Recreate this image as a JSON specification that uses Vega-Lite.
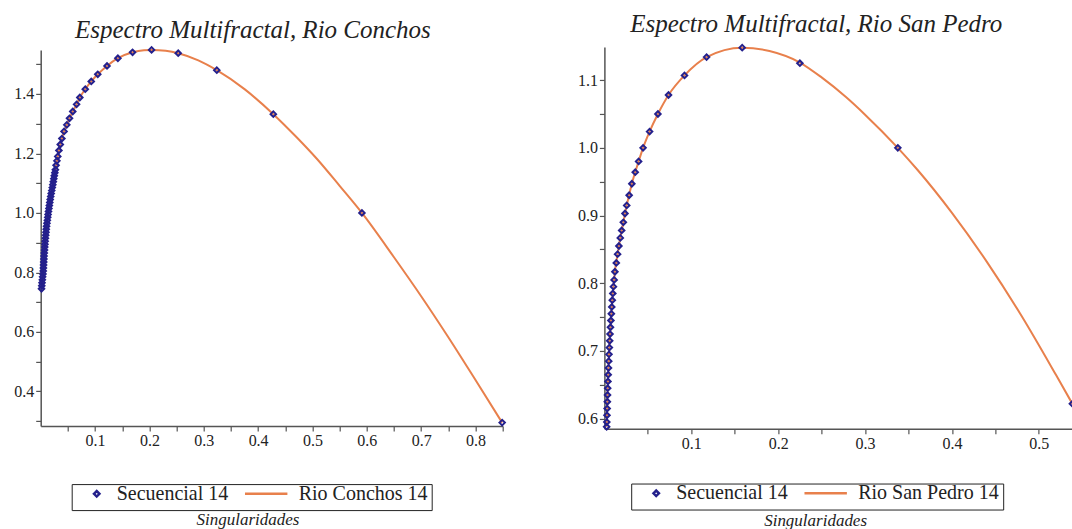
{
  "$schema": "https://vega.github.io/schema/vega-lite/v6.json",
  "background": "white",
  "padding": {"left": 13.7, "top": 10.9, "right": 0, "bottom": 0},
  "bounds": "flush",
  "center": true,
  "spacing": 101.7,
  "config": {
    "view": {"stroke": null},
    "font": "Liberation Serif",
    "axis": {
      "labelFont": "Liberation Serif", "labelFontSize": 16, "labelColor": "#222",
      "domainColor": "#555", "domainWidth": 1.5, "tickColor": "#555", "tickSize": 5, "tickWidth": 1.2,
      "grid": false, "labelPadding": 2, "labelFlush": false, "labelOverlap": false,
      "titleFont": "Liberation Serif", "titleFontStyle": "italic", "titleFontWeight": "normal",
      "titleFontSize": 17, "titleColor": "#222"
    },
    "title": {"font": "Liberation Serif", "fontStyle": "italic", "fontWeight": "normal", "fontSize": 25, "color": "#222", "anchor": "start", "frame": "group", "baseline": "alphabetic"},
    "legend": {
      "orient": "none", "direction": "horizontal",
      "strokeColor": "#222", "fillColor": "white", "padding": 4,
      "labelFont": "Liberation Serif", "labelFontSize": 20, "labelColor": "#222",
      "labelOffset": 10, "columnPadding": 15, "symbolStrokeWidth": 2.5, "clipHeight": 11,
      "titleOrient": "left", "titlePadding": 11, "titleFontSize": 20, "titleFont": "Liberation Serif"
    }
  },
  "resolve": {
    "scale": {"x": "independent", "y": "independent", "color": "independent", "shape": "independent", "size": "independent"},
    "legend": {"color": "independent", "shape": "independent", "size": "independent"}
  },
  "hconcat": [
    {
      "width": 462,
      "height": 376,
      "title": {"text": "Espectro Multifractal, Rio Conchos", "dx": 34.3, "offset": 0},
      "encoding": {
        "x": {"field": "x", "type": "quantitative", "scale": {"domain": [0, 0.85], "nice": false, "zero": false},
          "axis": {"title": "Singularidades", "values": [0.05, 0.1, 0.15, 0.2, 0.25, 0.3, 0.35, 0.4, 0.45, 0.5, 0.55, 0.6, 0.65, 0.7, 0.75, 0.8, 0.85],
            "labelExpr": "abs(datum.value*10 - round(datum.value*10)) < 0.01 ? format(datum.value, '.1f') : ''",
            "titleX": 206.8, "titleY": 99, "titleAnchor": null, "titleAlign": "center", "titleBaseline": "alphabetic"}},
        "y": {"field": "y", "type": "quantitative", "scale": {"domain": [0.284, 1.548], "nice": false, "zero": false},
          "axis": {"title": null, "values": [0.3, 0.4, 0.5, 0.6, 0.7, 0.8, 0.9, 1.0, 1.1, 1.2, 1.3, 1.4, 1.5],
            "labelExpr": "abs(datum.value*5 - round(datum.value*5)) < 0.01 ? format(datum.value, '.1f') : ''"}}
      },
      "layer": [
        {
          "data": {"values": [
            {"x": 0.0015, "y": 0.745}, {"x": 0.003, "y": 0.78}, {"x": 0.0045, "y": 0.80}, {"x": 0.006, "y": 0.85},
            {"x": 0.008, "y": 0.90}, {"x": 0.0105, "y": 0.95}, {"x": 0.014, "y": 1.00}, {"x": 0.018, "y": 1.05},
            {"x": 0.0228, "y": 1.10}, {"x": 0.0275, "y": 1.15}, {"x": 0.0325, "y": 1.20}, {"x": 0.036, "y": 1.23},
            {"x": 0.039, "y": 1.25}, {"x": 0.043, "y": 1.274}, {"x": 0.048, "y": 1.296}, {"x": 0.053, "y": 1.318},
            {"x": 0.059, "y": 1.341}, {"x": 0.066, "y": 1.365}, {"x": 0.072, "y": 1.388}, {"x": 0.082, "y": 1.416},
            {"x": 0.093, "y": 1.442}, {"x": 0.105, "y": 1.466}, {"x": 0.122, "y": 1.494}, {"x": 0.142, "y": 1.52},
            {"x": 0.169, "y": 1.54}, {"x": 0.19, "y": 1.547}, {"x": 0.204, "y": 1.548}, {"x": 0.23, "y": 1.545},
            {"x": 0.253, "y": 1.537}, {"x": 0.29, "y": 1.513}, {"x": 0.324, "y": 1.48}, {"x": 0.375, "y": 1.416},
            {"x": 0.428, "y": 1.332}, {"x": 0.47, "y": 1.256}, {"x": 0.508, "y": 1.182}, {"x": 0.55, "y": 1.091},
            {"x": 0.591, "y": 1.0}, {"x": 0.65, "y": 0.851}, {"x": 0.7, "y": 0.72}, {"x": 0.75, "y": 0.582},
            {"x": 0.8, "y": 0.438}, {"x": 0.849, "y": 0.295}
          ]},
          "mark": {"type": "line", "strokeWidth": 2, "interpolate": "monotone"},
          "encoding": {
            "color": {"datum": "Rio Conchos 14", "type": "nominal"}
          }
        },
        {
          "data": {"values": [
            {"x": 0.0015, "y": 0.745}, {"x": 0.002, "y": 0.755}, {"x": 0.0025, "y": 0.765}, {"x": 0.003, "y": 0.775},
            {"x": 0.0035, "y": 0.785}, {"x": 0.0042, "y": 0.795}, {"x": 0.0047, "y": 0.805}, {"x": 0.005, "y": 0.815},
            {"x": 0.0053, "y": 0.825}, {"x": 0.0056, "y": 0.835}, {"x": 0.0059, "y": 0.845}, {"x": 0.0062, "y": 0.855},
            {"x": 0.0066, "y": 0.865}, {"x": 0.007, "y": 0.875}, {"x": 0.0074, "y": 0.885}, {"x": 0.0078, "y": 0.895},
            {"x": 0.0082, "y": 0.905}, {"x": 0.0087, "y": 0.915}, {"x": 0.0092, "y": 0.925}, {"x": 0.0097, "y": 0.935},
            {"x": 0.0102, "y": 0.945}, {"x": 0.0108, "y": 0.955}, {"x": 0.0115, "y": 0.965}, {"x": 0.0122, "y": 0.975},
            {"x": 0.0129, "y": 0.985}, {"x": 0.0136, "y": 0.995}, {"x": 0.0143, "y": 1.005}, {"x": 0.0151, "y": 1.015},
            {"x": 0.0159, "y": 1.025}, {"x": 0.0167, "y": 1.035}, {"x": 0.0175, "y": 1.045}, {"x": 0.0184, "y": 1.055},
            {"x": 0.0193, "y": 1.065}, {"x": 0.0203, "y": 1.075}, {"x": 0.0213, "y": 1.085}, {"x": 0.0223, "y": 1.095},
            {"x": 0.0232, "y": 1.105}, {"x": 0.0241, "y": 1.115}, {"x": 0.025, "y": 1.125}, {"x": 0.026, "y": 1.135},
            {"x": 0.027, "y": 1.145}, {"x": 0.0283, "y": 1.16}, {"x": 0.0298, "y": 1.175}, {"x": 0.0314, "y": 1.19},
            {"x": 0.0335, "y": 1.21}, {"x": 0.036, "y": 1.23}, {"x": 0.039, "y": 1.25}, {"x": 0.043, "y": 1.274},
            {"x": 0.048, "y": 1.296}, {"x": 0.053, "y": 1.318}, {"x": 0.059, "y": 1.341}, {"x": 0.066, "y": 1.365},
            {"x": 0.072, "y": 1.388}, {"x": 0.082, "y": 1.416}, {"x": 0.093, "y": 1.442}, {"x": 0.105, "y": 1.466},
            {"x": 0.122, "y": 1.494}, {"x": 0.142, "y": 1.52}, {"x": 0.169, "y": 1.54}, {"x": 0.204, "y": 1.548},
            {"x": 0.253, "y": 1.537}, {"x": 0.324, "y": 1.48}, {"x": 0.428, "y": 1.332}, {"x": 0.591, "y": 1.0},
            {"x": 0.849, "y": 0.295}
          ]},
          "mark": {"type": "point", "filled": false, "strokeWidth": 2, "opacity": 1},
          "encoding": {
            "color": {"datum": "Secuencial 14", "type": "nominal",
              "scale": {"domain": ["Secuencial 14", "Rio Conchos 14"], "range": ["#24208c", "#e8804c"]},
              "legend": {"title": " ", "legendX": 31, "legendY": 434.2}},
            "shape": {"datum": "Secuencial 14", "type": "nominal",
              "scale": {"domain": ["Secuencial 14", "Rio Conchos 14"], "range": ["diamond", "stroke"]},
              "legend": {"title": " ", "legendX": 31, "legendY": 434.2}},
            "size": {"datum": "Secuencial 14", "type": "ordinal",
              "scale": {"domain": ["Secuencial 14", "Rio Conchos 14"], "range": [30, 1800]},
              "legend": {"title": " ", "legendX": 31, "legendY": 434.2}}
          }
        }
      ]
    },
    {
      "width": 468,
      "height": 381.9,
      "title": {"text": "Espectro Multifractal, Rio San Pedro", "dx": 25.8, "offset": 4.2},
      "encoding": {
        "x": {"field": "x", "type": "quantitative", "scale": {"domain": [0, 0.5386], "nice": false, "zero": false},
          "axis": {"title": "Singularidades", "values": [0.05, 0.1, 0.15, 0.2, 0.25, 0.3, 0.35, 0.4, 0.45, 0.5],
            "labelExpr": "abs(datum.value*10 - round(datum.value*10)) < 0.01 ? format(datum.value, '.1f') : ''",
            "titleX": 210.7, "titleY": 96.7, "titleAnchor": null, "titleAlign": "center", "titleBaseline": "alphabetic"}},
        "y": {"field": "y", "type": "quantitative", "scale": {"domain": [0.585, 1.149], "nice": false, "zero": false},
          "axis": {"title": null, "values": [0.6, 0.65, 0.7, 0.75, 0.8, 0.85, 0.9, 0.95, 1.0, 1.05, 1.1],
            "labelExpr": "abs(datum.value*10 - round(datum.value*10)) < 0.01 ? format(datum.value, '.1f') : ''"}}
      },
      "layer": [
        {
          "data": {"values": [
            {"x": 0.0026, "y": 0.588}, {"x": 0.003, "y": 0.605}, {"x": 0.0036, "y": 0.635}, {"x": 0.0044, "y": 0.665},
            {"x": 0.0053, "y": 0.695}, {"x": 0.0065, "y": 0.725}, {"x": 0.008, "y": 0.755}, {"x": 0.0097, "y": 0.785},
            {"x": 0.0112, "y": 0.805}, {"x": 0.0121, "y": 0.817}, {"x": 0.0152, "y": 0.843}, {"x": 0.0183, "y": 0.867},
            {"x": 0.0218, "y": 0.89}, {"x": 0.0257, "y": 0.915}, {"x": 0.0316, "y": 0.947}, {"x": 0.0394, "y": 0.98},
            {"x": 0.0445, "y": 1.0}, {"x": 0.052, "y": 1.024}, {"x": 0.0616, "y": 1.05}, {"x": 0.0738, "y": 1.078},
            {"x": 0.0922, "y": 1.107}, {"x": 0.1176, "y": 1.134}, {"x": 0.1586, "y": 1.148}, {"x": 0.19, "y": 1.143},
            {"x": 0.225, "y": 1.126}, {"x": 0.25, "y": 1.104}, {"x": 0.278, "y": 1.075}, {"x": 0.3, "y": 1.049},
            {"x": 0.3377, "y": 1.0}, {"x": 0.36, "y": 0.968}, {"x": 0.4, "y": 0.904}, {"x": 0.44, "y": 0.832},
            {"x": 0.48, "y": 0.752}, {"x": 0.52, "y": 0.664}, {"x": 0.5386, "y": 0.622}
          ]},
          "mark": {"type": "line", "strokeWidth": 2, "interpolate": "monotone"},
          "encoding": {
            "color": {"datum": "Rio San Pedro 14", "type": "nominal"}
          }
        },
        {
          "data": {"values": [
            {"x": 0.0026, "y": 0.588}, {"x": 0.0028, "y": 0.595}, {"x": 0.003, "y": 0.605}, {"x": 0.0032, "y": 0.615},
            {"x": 0.0034, "y": 0.625}, {"x": 0.0036, "y": 0.635}, {"x": 0.0038, "y": 0.645}, {"x": 0.0041, "y": 0.655},
            {"x": 0.0044, "y": 0.665}, {"x": 0.0047, "y": 0.675}, {"x": 0.005, "y": 0.685}, {"x": 0.0053, "y": 0.695},
            {"x": 0.0057, "y": 0.705}, {"x": 0.0061, "y": 0.715}, {"x": 0.0065, "y": 0.725}, {"x": 0.007, "y": 0.735},
            {"x": 0.0075, "y": 0.745}, {"x": 0.008, "y": 0.755}, {"x": 0.0085, "y": 0.765}, {"x": 0.0091, "y": 0.775},
            {"x": 0.0097, "y": 0.785}, {"x": 0.0104, "y": 0.795}, {"x": 0.0112, "y": 0.805}, {"x": 0.0121, "y": 0.817},
            {"x": 0.0137, "y": 0.83}, {"x": 0.0152, "y": 0.843}, {"x": 0.0167, "y": 0.855}, {"x": 0.0183, "y": 0.867},
            {"x": 0.0199, "y": 0.878}, {"x": 0.0218, "y": 0.89}, {"x": 0.0237, "y": 0.903}, {"x": 0.0257, "y": 0.915},
            {"x": 0.0285, "y": 0.93}, {"x": 0.0316, "y": 0.947}, {"x": 0.0355, "y": 0.964}, {"x": 0.0394, "y": 0.98},
            {"x": 0.0445, "y": 1.0}, {"x": 0.052, "y": 1.024}, {"x": 0.0616, "y": 1.05}, {"x": 0.0738, "y": 1.078},
            {"x": 0.0922, "y": 1.107}, {"x": 0.1176, "y": 1.134}, {"x": 0.1586, "y": 1.148}, {"x": 0.225, "y": 1.125},
            {"x": 0.3377, "y": 1.0}, {"x": 0.5386, "y": 0.622}
          ]},
          "mark": {"type": "point", "filled": false, "strokeWidth": 2, "opacity": 1},
          "encoding": {
            "color": {"datum": "Secuencial 14", "type": "nominal",
              "scale": {"domain": ["Secuencial 14", "Rio San Pedro 14"], "range": ["#24208c", "#e8804c"]},
              "legend": {"title": " ", "legendX": 26.8, "legendY": 436.6}},
            "shape": {"datum": "Secuencial 14", "type": "nominal",
              "scale": {"domain": ["Secuencial 14", "Rio San Pedro 14"], "range": ["diamond", "stroke"]},
              "legend": {"title": " ", "legendX": 26.8, "legendY": 436.6}},
            "size": {"datum": "Secuencial 14", "type": "ordinal",
              "scale": {"domain": ["Secuencial 14", "Rio San Pedro 14"], "range": [30, 1800]},
              "legend": {"title": " ", "legendX": 26.8, "legendY": 436.6}}
          }
        }
      ]
    }
  ]
}
